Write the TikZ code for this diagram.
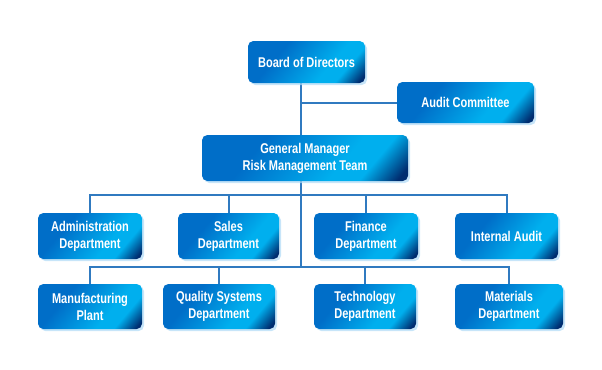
\documentclass[tikz,border=0pt]{standalone}
\usepackage{fontspec}
\usepackage{tikz}
\usetikzlibrary{shadows,backgrounds}
\setmainfont{Liberation Sans}
\newfontfamily\chartfont{Liberation Sans}[FakeStretch=0.78]
\definecolor{deepblue}{RGB}{0,110,200}
\definecolor{skyblue}{RGB}{0,175,238}
\definecolor{navyblue}{RGB}{0,45,112}
\definecolor{linkblue}{RGB}{48,122,192}
\definecolor{glowblue}{RGB}{175,218,246}
\newlength{\pxu}
\setlength{\pxu}{0.75pt}
\pgfdeclarehorizontalshading{unitshade}{100bp}{color(0bp)=(deepblue); color(34bp)=(deepblue);
  color(62bp)=(skyblue); color(71bp)=(skyblue); color(82bp)=(navyblue); color(100bp)=(navyblue)}
\newcommand{\unitfont}{\chartfont\bfseries\fontsize{10.6}{12.75}\selectfont}

\begin{document}
\begin{tikzpicture}[x=\pxu, y=-\pxu,
    unit/.style={shading=unitshade, shading angle=-40, rounded corners=4pt,
      inner sep=0pt, align=center, minimum height=46\pxu, text=white, font=\unitfont,
      drop shadow={shadow xshift=1.5pt, shadow yshift=-1.5pt, fill=glowblue, opacity=0.7}},
    link/.style={draw=linkblue, line width=1.5pt}]
\useasboundingbox (0,0) rectangle (602,369);

% top of the chart
\node[unit, minimum width=117\pxu, minimum height=42\pxu] (board) at (306.5,62) {Board of Directors};
\node[unit, minimum width=137\pxu, minimum height=41\pxu] (audit) at (465.5,102.5) {Audit Committee};
\node[unit, minimum width=206\pxu] (gm) at (305,158) {General Manager\\Risk Management Team};

% first row
\node[unit, minimum width=104\pxu] (admin) at (90,236) {Administration\\Department};
\node[unit, minimum width=101\pxu] (sales) at (228.5,236) {Sales\\Department};
\node[unit, minimum width=104\pxu] (finance) at (366,236) {Finance\\Department};
\node[unit, minimum width=103\pxu] (intaudit) at (506.5,236) {Internal Audit};

% second row
\node[unit, minimum width=104\pxu, minimum height=45\pxu] (manuf) at (90,306.5) {Manufacturing\\Plant};
\node[unit, minimum width=112\pxu, minimum height=45\pxu] (quality) at (219,306.5) {Quality Systems\\Department};
\node[unit, minimum width=102\pxu, minimum height=45\pxu] (tech) at (365,306.5) {Technology\\Department};
\node[unit, minimum width=108\pxu, minimum height=45\pxu] (materials) at (509,306.5) {Materials\\Department};

\coordinate (busone) at (301,195);
\coordinate (bustwo) at (301,267);

\begin{pgfonlayer}{background}
\draw[link] (board.south -| busone) -- (gm.north -| busone);
\draw[link] (gm.south -| busone) -- (bustwo);
\draw[link] (audit.west) -- (audit.west -| busone);
\draw[link] (admin.north) |- (busone) -| (intaudit.north);
\draw[link] (manuf.north) |- (bustwo) -| (materials.north);
\foreach \dept in {sales,finance} \draw[link] (\dept.north) -- (\dept.north |- busone);
\foreach \dept in {quality,tech} \draw[link] (\dept.north) -- (\dept.north |- bustwo);
\end{pgfonlayer}
\end{tikzpicture}
\end{document}
